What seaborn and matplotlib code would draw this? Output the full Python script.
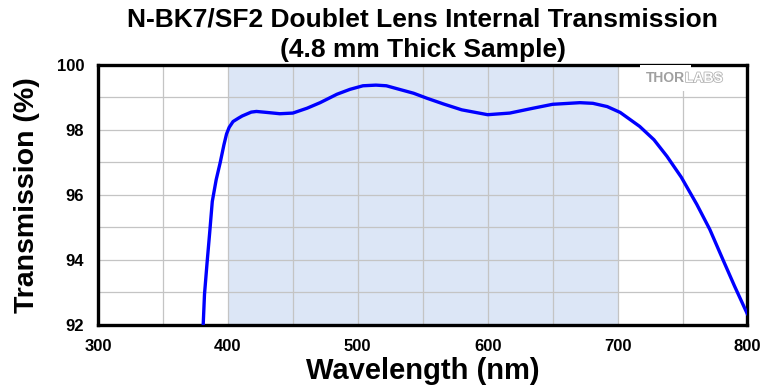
import matplotlib
matplotlib.use("Agg")
import matplotlib.pyplot as plt
import matplotlib.patheffects as pe
from matplotlib.ticker import MultipleLocator
import pandas as pd
import seaborn as sns

# values
wavelength = [381, 382, 384, 386, 388, 391, 394, 397, 399, 401, 404, 408, 411,
              418, 422, 430, 440, 450, 461, 471, 484, 494, 504, 514, 522, 532,
              543, 553, 566, 580, 600, 617, 635, 650, 671, 681, 692, 702, 717,
              728, 738, 749, 761, 771, 781, 790, 800]
transmission = [92.0, 92.94, 93.92, 94.84, 95.8, 96.47, 96.98, 97.55, 97.88,
                98.08, 98.26, 98.36, 98.43, 98.55, 98.57, 98.54, 98.50, 98.52,
                98.67, 98.84, 99.10, 99.25, 99.36, 99.38, 99.36, 99.25, 99.13,
                98.98, 98.80, 98.62, 98.47, 98.52, 98.67, 98.79, 98.84, 98.82,
                98.72, 98.54, 98.11, 97.70, 97.19, 96.55, 95.71, 94.94, 94.02,
                93.20, 92.33]
band = (400, 700)
x_ticks = [300, 400, 500, 600, 700, 800]
y_ticks = [92, 94, 96, 98, 100]

df = pd.DataFrame({"Wavelength": wavelength, "Transmission": transmission})

sns.set_style("white")
plt.rcParams["font.family"] = ["Liberation Sans", "DejaVu Sans"]
plt.rcParams["font.weight"] = "bold"
plt.rcParams["text.color"] = "black"
plt.rcParams["axes.labelcolor"] = "black"

fig = plt.figure(figsize=(7.8, 3.9), dpi=100)
ax = fig.add_axes([0.1256, 0.1667, 0.8327, 0.6667])

ax.axvspan(band[0], band[1], color="#dce6f6", zorder=0.2, lw=0)
sns.lineplot(data=df, x="Wavelength", y="Transmission", ax=ax,
             color="#0000ff", lw=2.4, zorder=3)

ax.set_xlim(300, 800)
ax.set_ylim(92, 100)
ax.set_xticks(x_ticks)
ax.set_yticks(y_ticks)
ax.xaxis.set_minor_locator(MultipleLocator(50))
ax.yaxis.set_minor_locator(MultipleLocator(1))
ax.set_axisbelow(True)
ax.grid(True, which="both", color="#c4c4c4", lw=0.9)

for s in ax.spines.values():
    s.set_color("black")
    s.set_linewidth(2.4)
ax.tick_params(which="major", direction="out", length=6, width=1.5,
               labelsize=12, pad=4, colors="black")
ax.tick_params(which="minor", direction="out", length=3.5, width=1.5)
for lab in ax.get_xticklabels() + ax.get_yticklabels():
    lab.set_fontweight("bold")

ax.set_xlabel("Wavelength (nm)", fontsize=21, fontweight="bold", labelpad=2)
ax.set_ylabel("Transmission (%)", fontsize=20.5, fontweight="bold", labelpad=12)
ax.set_title("N-BK7/SF2 Doublet Lens Internal Transmission\n(4.8 mm Thick Sample)",
             fontsize=19, fontweight="bold", linespacing=1.3, pad=6)

# logo: THOR solid (white box hides the grid behind it), LABS outlined
ax.text(751.9, 99.6, "THOR", ha="right", va="center", fontsize=10,
        fontweight="bold", color="#a0a0a0", zorder=4,
        bbox=dict(facecolor="white", edgecolor="none", pad=4))
ax.text(751.9, 99.6, "LABS", ha="left", va="center", fontsize=10,
        fontweight="bold", color="white", zorder=5,
        path_effects=[pe.withStroke(linewidth=1.2, foreground="#b4b4b4")])

fig.savefig("out.png", dpi=100)
